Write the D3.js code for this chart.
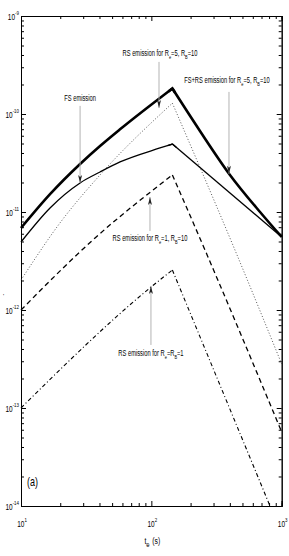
<!DOCTYPE html>
<html>
<head>
<meta charset="utf-8">
<script src="https://cdn.jsdelivr.net/npm/d3@7"></script>
<style>
  body { margin: 0; background: #fff; }
  svg text { font-family: "Liberation Sans", Arial, sans-serif; fill: #000; }
  .axis path, .axis line { stroke: #000; stroke-width: 1; }
</style>
</head>
<body>
<div id="chart"></div>
<script>
// ── DATA (t in s, flux) ──────────────────────────────────────────────────────
const fsrsT  = [10, 16.7, 28.4, 40.4, 57.5, 145, 236, 401, 682, 1000];
const fsrsF  = [6.87e-12, 1.52e-11, 3.09e-11, 4.71e-11, 6.97e-11, 1.82e-10, 6.71e-11, 2.39e-11, 1.0e-11, 5.56e-12];

const fsT    = [10, 16.7, 28.4, 40.4, 57.5, 116.5, 145, 1000];
const fsF    = [4.94e-12, 1.10e-11, 1.98e-11, 2.56e-11, 3.24e-11, 4.50e-11, 4.94e-11, 5.56e-12];

const rs5T   = [10, 19.9, 40.4, 145, 438, 1000];
const rs5F   = [2.02e-12, 7.73e-12, 2.39e-11, 1.29e-10, 4.09e-12, 2.81e-13];

const rs1T   = [10, 37.0, 145, 258, 1000];
const rs1F   = [1.0e-12, 5.43e-12, 2.39e-11, 4.09e-12, 5.69e-14];

const rs11T  = [10, 97.6, 145, 813];
const rs11F  = [1.0e-13, 1.68e-12, 2.56e-12, 1.0e-14];

const xDecades = [1e1, 1e2, 1e3];
const xExp     = ['1', '2', '3'];
const yDecades = [1e-9, 1e-10, 1e-11, 1e-12, 1e-13, 1e-14];
const yExp     = ['-9', '-10', '-11', '-12', '-13', '-14'];

// annotations: label parts, label centre (t, F), arrow at t from F a0 to tip a1
const notes = [
  { parts: [['FS emission']], tx: 28.4, ty: 1.36e-10, ax: 28.4, a0: 1.21e-10, a1: 1.98e-11 },
  { parts: [['RS emission for R'], ['e', 'sub'], ['=5, R'], ['B', 'sub'], ['=10']], tx: 116.5, ty: 3.9e-10, ax: 114.5, a0: 3.4e-10, a1: 1.15e-10 },
  { parts: [['FS+RS emission for R'], ['e', 'sub'], ['=5, R'], ['B', 'sub'], ['=10']], tx: 380, ty: 2.07e-10, ax: 394, a0: 1.68e-10, a1: 2.45e-11 },
  { parts: [['RS emission for R'], ['e', 'sub'], ['=1, R'], ['B', 'sub'], ['=10']], tx: 97.6, ty: 5.06e-12, ax: 97.6, a0: 6.4e-12, a1: 1.42e-11 },
  { parts: [['RS emission for R'], ['e', 'sub'], ['=R'], ['B', 'sub'], ['=1']], tx: 99.3, ty: 3.4e-13, ax: 99.3, a0: 4.4e-13, a1: 1.76e-12 }
];

// ── DIMENSIONS ───────────────────────────────────────────────────────────────
const W = 289, H = 556;
const margin = { top: 16, right: 7.3, bottom: 50, left: 21 };
const width  = W - margin.left - margin.right;
const height = H - margin.top - margin.bottom;

const svg = d3.select('#chart').append('svg')
  .attr('width', W).attr('height', H);
const g = svg.append('g').attr('transform', `translate(${margin.left},${margin.top})`);

const x = d3.scaleLog().domain([10, 1000]).range([0, width]);
const y = d3.scaleLog().domain([1e-14, 1e-9]).range([height, 0]);

// condensed text helper (narrow Helvetica look)
function label(parent, px, py, anchor, size, sx, parts) {
  const t = parent.append('text')
    .attr('transform', `translate(${px},${py}) scale(${sx},1)`)
    .attr('text-anchor', anchor).style('font-size', size + 'px');
  let off = 0;
  parts.forEach(p => {
    const sp = t.append('tspan').text(p[0]);
    let target = 0;
    if (p[1] === 'sub') { target = size * 0.35; sp.style('font-size', (size * 0.68) + 'px'); }
    if (p[1] === 'sup') { target = -size * 0.55; sp.style('font-size', (size * 0.68) + 'px'); }
    if (target !== off) sp.attr('dy', target - off);
    off = target;
  });
  return t;
}

// minor tick values
const xMinor = [], yMinor = [];
[1, 10].forEach(d => { for (let k = 2; k <= 9; k++) xMinor.push(k * d * 10); });
[1e-14, 1e-13, 1e-12, 1e-11, 1e-10].forEach(d => { for (let k = 2; k <= 9; k++) yMinor.push(k * d); });

// ── AXES ─────────────────────────────────────────────────────────────────────
function ax(gen, vals, size, tr) {
  return g.append('g').attr('class', 'axis').attr('transform', tr || null)
    .call(gen.tickValues(vals).tickSize(size).tickFormat(''));
}
ax(d3.axisBottom(x), xDecades, -5, `translate(0,${height})`);
ax(d3.axisBottom(x), xMinor, -3, `translate(0,${height})`);
ax(d3.axisTop(x), xDecades, -5);
ax(d3.axisTop(x), xMinor, -3);
ax(d3.axisLeft(y), yDecades, -5);
ax(d3.axisLeft(y), yMinor, -3);
ax(d3.axisRight(y), yDecades, -5, `translate(${width},0)`);
ax(d3.axisRight(y), yMinor, -3, `translate(${width},0)`);
g.selectAll('.axis .domain').attr('stroke-width', 1.2);

// tick labels with superscripts
yDecades.forEach((v, i) => {
  label(g, -2, y(v) + 4, 'end', 9, 0.72, [['10'], [yExp[i], 'sup']]);
});
xDecades.forEach((v, i) => {
  label(g, x(v) + 1, height + 21, 'middle', 9, 0.72, [['10'], [xExp[i], 'sup']]);
});

// axis title
label(g, x(100) + 1, height + 38, 'middle', 9.5, 0.72, [['t'], ['\u2295', 'sub'], [' (s)']]);

svg.append('text').attr('x', 3).attr('y', 298).style('font-size', '6px').attr('fill', '#777').text("'");

// ── CURVES ───────────────────────────────────────────────────────────────────
const line = d3.line().x(d => x(d[0])).y(d => y(d[1])).curve(d3.curveMonotoneX);
const zip = (a, b) => a.map((v, i) => [v, b[i]]);
const plotG = g.append('g');

const series = [
  { t: rs5T,  f: rs5F,  w: 0.9, dash: '1,2',         col: '#444' },
  { t: rs1T,  f: rs1F,  w: 1.3, dash: '5,3.5',       col: '#000' },
  { t: rs11T, f: rs11F, w: 1.1, dash: '4,2.5,1,2.5', col: '#000' },
  { t: fsT,   f: fsF,   w: 1.3, dash: null,          col: '#000' },
  { t: fsrsT, f: fsrsF, w: 2.6, dash: null,          col: '#000' }
];
series.forEach(s => {
  const pts = zip(s.t, s.f);
  const pk = d3.maxIndex(s.f);
  [pts.slice(0, pk + 1), pts.slice(pk)].forEach(seg => {
    plotG.append('path')
      .datum(seg)
      .attr('d', line)
      .attr('fill', 'none')
      .attr('stroke', s.col)
      .attr('stroke-width', s.w)
      .attr('stroke-dasharray', s.dash)
      .attr('stroke-linecap', 'butt');
  });
  // sharp joint at the peak for the solid curves
  if (!s.dash) {
    const b = pts[pk];
    const bx = x(b[0]), by = y(b[1]);
    const dirTo = p => {
      const dx = x(p[0]) - bx, dy = y(p[1]) - by, l = Math.hypot(dx, dy);
      return [bx + 5 * dx / l, by + 5 * dy / l];
    };
    const ua = dirTo(pts[pk - 1]), uc = dirTo(pts[pk + 1]);
    plotG.append('path')
      .attr('d', `M${ua[0]},${ua[1]}L${bx},${by}L${uc[0]},${uc[1]}`)
      .attr('fill', 'none').attr('stroke', s.col).attr('stroke-width', s.w)
      .attr('stroke-linejoin', 'miter');
  }
});

// ── ANNOTATIONS ──────────────────────────────────────────────────────────────
notes.forEach(n => {
  label(g, x(n.tx), y(n.ty), 'middle', 9, 0.64, n.parts);
  const xa = x(n.ax), y0 = y(n.a0), y1 = y(n.a1);
  g.append('line').attr('x1', xa).attr('x2', xa).attr('y1', y0).attr('y2', y1)
    .attr('stroke', '#aaa').attr('stroke-width', 0.9);
  const dir = y1 > y0 ? 1 : -1;
  g.append('path')
    .attr('d', `M${xa},${y1} L${xa - 2},${y1 - dir * 8} L${xa},${y1 - dir * 6} L${xa + 2},${y1 - dir * 8} Z`)
    .attr('fill', '#222');
});

// panel label
label(g, 6, 470, 'start', 12.5, 0.72, [['(a)']]);
</script>
</body>
</html>
